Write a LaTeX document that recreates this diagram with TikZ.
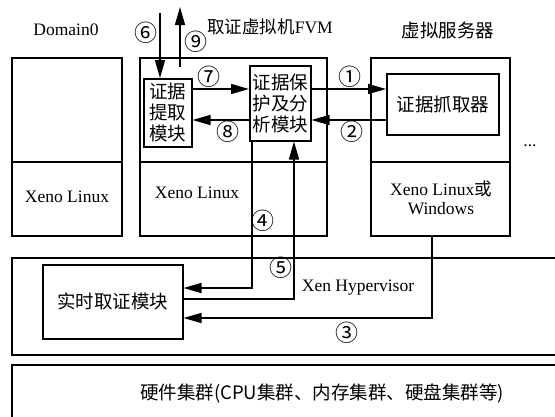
\documentclass[tikz,border=0pt]{standalone}
\usepackage{fontspec}
\setmainfont{Liberation Serif}
\newfontfamily\cjk{Noto Sans CJK SC}
\usetikzlibrary{arrows.meta}
\begin{document}
\begin{tikzpicture}[x=1pt,y=-1pt,
  box/.style={draw, line width=1.5pt, inner sep=0pt, anchor=north west},
  ln/.style={line width=1.5pt},
  arr/.style={line width=1.5pt, -{Triangle[length=18pt,width=10pt]}},
  lat/.style={font=\fontsize{17.5}{19}\selectfont, inner sep=0pt},
  zh/.style={font=\fontsize{18.5}{21}\selectfont\cjk, inner sep=0pt},
  num/.style={font=\fontsize{23}{24}\selectfont\cjk, inner sep=0pt}]
\useasboundingbox (0,0) rectangle (555,416);
\clip (0,0) rectangle (555,416);
\fill[white] (0,0) rectangle (555,416);

% top-level boxes
\node[box, minimum width=110pt, minimum height=178pt] (dom0) at (11,57) {};
\node[box, minimum width=187pt, minimum height=178pt] (fvm) at (139,57) {};
\node[box, minimum width=139pt, minimum height=178pt] (vs) at (370,57) {};
\draw[ln] (dom0.west |- 0,162) -- (dom0.east |- 0,162);
\draw[ln] (fvm.west |- 0,162) -- (fvm.east |- 0,162);
\draw[ln] (vs.west |- 0,162) -- (vs.east |- 0,162);

\node[box, minimum width=549pt, minimum height=97pt] (hyp) at (11,257) {};
\node[box, minimum width=549pt, minimum height=70pt] (hw) at (11,364) {};

% inner boxes
\node[box, zh, align=center, minimum width=48pt, minimum height=68pt] (ext) at (143,78) {证据\\提取\\模块};
\node[box, zh, align=center, minimum width=61pt, minimum height=75pt] (prot) at (249,65) {证据保\\护及分\\析模块};
\node[box, zh, minimum width=112pt, minimum height=61pt] (grab) at (386,73) {证据抓取器};
\node[box, zh, minimum width=140pt, minimum height=74pt] (rt) at (42,264) {实时取证模块};

% titles
\node[lat] (t0) at (66,30) {Domain0};
\node[lat] (t1) at (270,27) {{\cjk 取证虚拟机}FVM};
\node[zh] (t2) at (448,30) {虚拟服务器};
\node[lat] (x0) at (67,197) {Xeno Linux};
\node[lat] (x1) at (197,193) {Xeno Linux};
\node[lat, align=center] (x2) at (441,198) {Xeno Linux{\cjk 或}\\Windows};
\node[lat] (xh) at (358,288) {Xen Hypervisor};
\node[zh] (hwt) at (322,393) {硬件集群(CPU集群、内存集群、硬盘集群等)};
\node[lat] (dots) at (530,146) {...};

% arrows
\coordinate (c6) at (160,13);
\coordinate (c9s) at (180,67);
\coordinate (c9e) at (180,7);
\draw[arr] (c6) -- (c6 |- ext.north);
\draw[arr] (c9s) -- (c9e);
\draw[arr] (ext.east |- 0,89) -- (prot.west |- 0,89);
\draw[arr] (prot.west |- 0,120) -- (ext.east |- 0,120);
\draw[arr] (prot.east |- 0,89) -- (grab.west |- 0,89);
\draw[arr] (grab.west |- 0,120) -- (prot.east |- 0,120);
\draw[arr] (prot.south -| 252,0) |- (rt.east |- 0,288);
\draw[arr] (rt.east |- 0,299) -| (prot.south -| 294,0);
\draw[arr] (vs.south -| 432,0) |- (rt.east |- 0,318);

% numbers
\node[num] (n6) at (146,33) {⑥};
\node[num] (n9) at (196,42) {⑨};
\node[num] (n7) at (209,77) {⑦};
\node[num] (n8) at (228,132) {⑧};
\node[num] (n1) at (350,77) {①};
\node[num] (n2) at (352,132) {②};
\node[num] (n4) at (263,221) {④};
\node[num] (n5) at (281,268) {⑤};
\node[num] (n3) at (347,333) {③};
\end{tikzpicture}
\end{document}
